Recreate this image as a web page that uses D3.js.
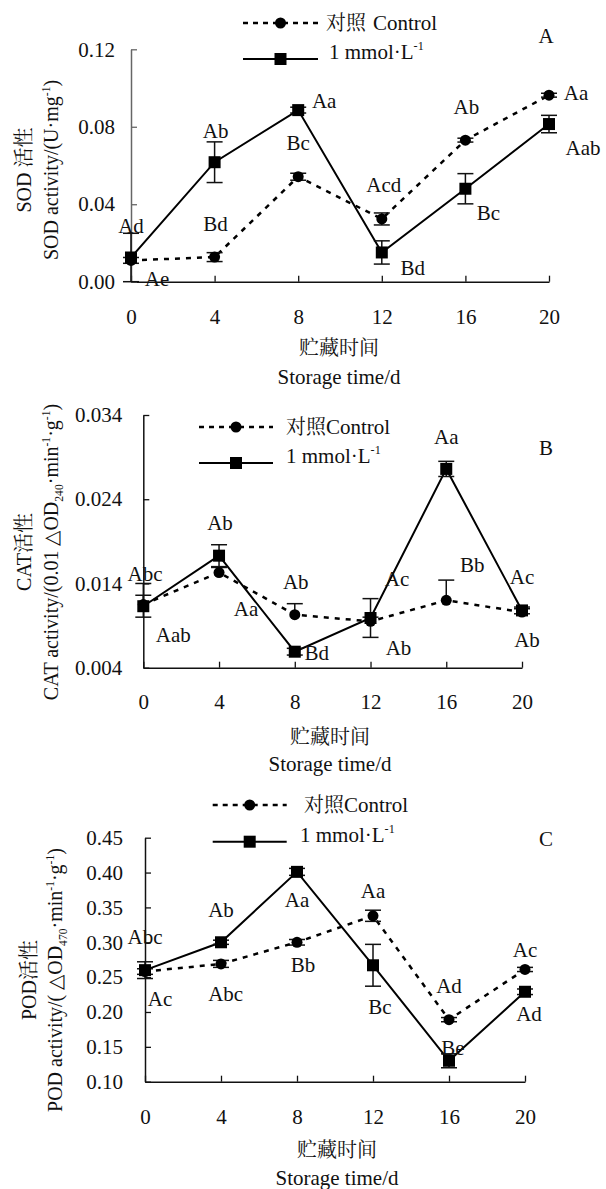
<!DOCTYPE html>
<html><head><meta charset="utf-8">
<script src="https://cdn.jsdelivr.net/npm/d3@7"></script>
<style>body{margin:0;background:#fff}svg{display:block}</style>
</head><body>
<svg id="chart" width="606" height="1189"></svg>
<script>
// ---------- DATA ----------
const days = [0, 4, 8, 12, 16, 20];

const sodCtrl    = [0.011, 0.0127, 0.0542, 0.0324, 0.0731, 0.0963];
const sodCtrlErr = [0.0015, 0.0023, 0.0018, 0.0031, 0.001, 0.001];
const sodTrt     = [0.0125, 0.0617, 0.0886, 0.0151, 0.048, 0.0814];
const sodTrtErr  = [0.0125, 0.0105, 0.0015, 0.006, 0.0078, 0.0045];
const sodCtrlSig = ["Ae", "Bd", "Bc", "Acd", "Ab", "Aa"];
const sodTrtSig  = ["Ad", "Ab", "Aa", "Bd", "Bc", "Aab"];
const sodTicks   = [0, 0.04, 0.08, 0.12];

const catCtrl    = [0.0115, 0.0153, 0.0103, 0.0095, 0.0120, 0.0106];
const catCtrlErr = [0.0025, 0.0006, 0.0013, 0.0005, 0.0024, 0.0004];
const catTrt     = [0.0113, 0.0173, 0.0059, 0.0099, 0.0276, 0.0108];
const catTrtErr  = [0.0013, 0.0013, 0.0004, 0.0023, 0.0009, 0.0004];
const catCtrlSig = ["Aab", "Aa", "Ab", "Ab", "Bb", "Ab"];
const catTrtSig  = ["Abc", "Ab", "Bd", "Ac", "Aa", "Ac"];
const catTicks   = [0.004, 0.014, 0.024, 0.034];

const podCtrl    = [0.258, 0.269, 0.300, 0.338, 0.189, 0.261];
const podCtrlErr = [0.004, 0.005, 0.004, 0.008, 0.003, 0.003];
const podTrt     = [0.260, 0.300, 0.401, 0.267, 0.130, 0.229];
const podTrtErr  = [0.012, 0.003, 0.005, 0.03, 0.01, 0.004];
const podCtrlSig = ["Ac", "Abc", "Bb", "Aa", "Ad", "Ac"];
const podTrtSig  = ["Abc", "Ab", "Aa", "Bc", "Be", "Ad"];
const podTicks   = [0.10, 0.15, 0.20, 0.25, 0.30, 0.35, 0.40, 0.45];

const legendCtrl = "对照";
const legendCtrlEn = "Control";
const xTitleZh = "贮藏时间";
const xTitleEn = "Storage time/d";

// ---------- LAYOUT ----------
const SERIF = "Liberation Serif";
const CJK = "Noto Serif CJK SC";
const FS = 21;
const svg = d3.select("#chart");

const panels = [
  {
    letter: "A", ctrl: sodCtrl, ctrlErr: sodCtrlErr, trt: sodTrt, trtErr: sodTrtErr,
    ctrlSig: sodCtrlSig, trtSig: sodTrtSig, ticks: sodTicks, fmt: ".2f",
    domain: [0, 0.12], left: 131, right: 549, top: 49.3, bottom: 281.7,
    yPad: 16, xLabY: 35, yAxisColor: "#666", ctrlUpOnly: false,
    ctrlOff: [[26, 18], [1, -33], [0, -34], [2, -34], [1, -33], [27, -3]],
    trtOff:  [[0, -32], [1, -32], [26, -9], [31, 15], [23, 24], [34, 24]],
    letterPos: [546, 36],
    legend: { x0: 243, x1: 318, y1: 23, y2: 59, t1: 326, t2: 329, space: true },
    zhTitle: [["SOD ", 0], ["活性", 2]], zhX: 31, enX: 58, titleY: 170,
    enTitle: [["SOD activity/(U·mg", 0], ["-1", -1], [")", 0]],
    xTitleX: 339, xTitleY1: 348, xTitleY2: 377
  },
  {
    letter: "B", ctrl: catCtrl, ctrlErr: catCtrlErr, trt: catTrt, trtErr: catTrtErr,
    ctrlSig: catCtrlSig, trtSig: catTrtSig, ticks: catTicks, fmt: ".3f",
    domain: [0.004, 0.034], left: 143.3, right: 522, top: 415, bottom: 667.7,
    yPad: 21, xLabY: 34, yAxisColor: "#111", ctrlUpOnly: true,
    ctrlOff: [[30, 30.5], [27, 36.5], [1, -33], [28, 26.6], [26, -36], [5, 28]],
    trtOff:  [[1.7, -33], [1, -33], [22, 1], [26.5, -39], [0, -32], [0, -34]],
    letterPos: [546, 448],
    legend: { x0: 199, x1: 273, y1: 427, y2: 463, t1: 286, t2: 286, space: false },
    zhTitle: [["CAT", 0], ["活性", 2]], zhX: 31, enX: 58, titleY: 552,
    enTitle: [["CAT activity/(0.01 △OD", 0], ["240", 1], ["·min", 0], ["-1", -1], ["·g", 0], ["-1", -1], [")", 0]],
    xTitleX: 330, xTitleY1: 737, xTitleY2: 764
  },
  {
    letter: "C", ctrl: podCtrl, ctrlErr: podCtrlErr, trt: podTrt, trtErr: podTrtErr,
    ctrlSig: podCtrlSig, trtSig: podTrtSig, ticks: podTicks, fmt: ".2f",
    domain: [0.10, 0.45], left: 145, right: 525, top: 837.7, bottom: 1081.7,
    yPad: 22, xLabY: 35, yAxisColor: "#111", ctrlUpOnly: false,
    ctrlOff: [[15, 27.5], [4.7, 29.4], [6, 22.7], [0, -25], [0, -33.6], [0, -20]],
    trtOff:  [[0, -33.4], [0, -33], [0, 27.4], [7, 41.4], [4, -13.5], [4, 22]],
    letterPos: [546, 839],
    legend: { x0: 212.7, x1: 286.7, y1: 805, y2: 841.7, t1: 304, t2: 300, space: false },
    zhTitle: [["POD", 0], ["活性", 2]], zhX: 36, enX: 62, titleY: 980,
    enTitle: [["POD activity/( △OD", 0], ["470", 1], ["·min", 0], ["-1", -1], ["·g", 0], ["-1", -1], [")", 0]],
    xTitleX: 337, xTitleY1: 1150, xTitleY2: 1178
  }
];

// kind: 0 normal, -1 superscript, 1 subscript, 2 CJK
function addRich(sel, parts, fs) {
  let shift = 0;
  parts.forEach(([t, kind]) => {
    const target = kind === -1 ? -0.42 * fs : kind === 1 ? 0.25 * fs : 0;
    const ts = sel.append("tspan").text(t).attr("dy", target - shift)
      .style("font-family", kind === 2 ? CJK : SERIF);
    if (kind === -1 || kind === 1) ts.attr("font-size", fs * 0.58);
    shift = target;
  });
}

function drawLegend(p) {
  const L = p.legend;
  const g = svg.append("g");
  g.append("line").attr("x1", L.x0).attr("x2", L.x1).attr("y1", L.y1).attr("y2", L.y1)
    .attr("stroke", "#000").attr("stroke-width", 2.5).attr("stroke-dasharray", "5,5");
  g.append("circle").attr("cx", (L.x0 + L.x1) / 2).attr("cy", L.y1).attr("r", 5.5).attr("fill", "#000");
  g.append("line").attr("x1", L.x0).attr("x2", L.x1).attr("y1", L.y2).attr("y2", L.y2)
    .attr("stroke", "#000").attr("stroke-width", 2);
  g.append("rect").attr("x", (L.x0 + L.x1) / 2 - 6).attr("y", L.y2 - 6).attr("width", 12).attr("height", 12).attr("fill", "#000");
  const t1 = g.append("text").attr("x", L.t1).attr("y", L.y1).attr("dy", "0.35em").attr("font-size", FS)
    .style("font-family", SERIF).attr("fill", "#111");
  t1.append("tspan").style("font-family", CJK).attr("font-size", 20).text(legendCtrl);
  t1.append("tspan").style("font-family", SERIF).attr("dx", L.space ? 7 : 0).text(legendCtrlEn);
  const t2 = g.append("text").attr("x", L.t2).attr("y", L.y2).attr("dy", "0.35em").attr("font-size", FS)
    .style("font-family", SERIF).attr("fill", "#111");
  addRich(t2, [["1 mmol·L", 0], ["-1", -1]], FS);
}

function drawPanel(p) {
  const x = d3.scaleLinear().domain([0, 20]).range([p.left, p.right]);
  const y = d3.scaleLinear().domain(p.domain).range([p.bottom, p.top]);

  const gx = svg.append("g").attr("transform", `translate(0,${p.bottom})`)
    .call(d3.axisBottom(x).tickValues(days).tickSize(-6).tickSizeOuter(0));
  gx.attr("font-family", null).attr("font-size", null);
  gx.select(".domain").attr("stroke", "#111").attr("stroke-width", 1.5);
  gx.selectAll(".tick line").attr("stroke", "#111").attr("stroke-width", 1.3);
  gx.selectAll("text").style("font-family", SERIF).attr("y", p.xLabY).attr("dy", "0.35em")
    .attr("font-size", FS).attr("fill", "#111");

  const gy = svg.append("g").attr("transform", `translate(${p.left},0)`)
    .call(d3.axisLeft(y).tickValues(p.ticks).tickFormat(d3.format(p.fmt)).tickSize(-6).tickSizeOuter(0).tickPadding(p.yPad));
  gy.attr("font-family", null).attr("font-size", null);
  gy.select(".domain").attr("stroke", p.yAxisColor).attr("stroke-width", 1.5);
  gy.selectAll(".tick line").attr("stroke", p.yAxisColor).attr("stroke-width", 1.3);
  gy.selectAll("text").style("font-family", SERIF).attr("font-size", FS).attr("fill", "#111");

  const ctrlData = days.map((d, i) => ({ d, v: p.ctrl[i], e: p.ctrlErr[i], s: p.ctrlSig[i], o: p.ctrlOff[i] }));
  const trtData = days.map((d, i) => ({ d, v: p.trt[i], e: p.trtErr[i], s: p.trtSig[i], o: p.trtOff[i] }));
  const line = d3.line().x(d => x(d.d)).y(d => y(d.v));

  svg.append("path").datum(ctrlData).attr("d", line).attr("fill", "none")
    .attr("stroke", "#000").attr("stroke-width", 2.5).attr("stroke-dasharray", "5,6");
  svg.append("path").datum(trtData).attr("d", line).attr("fill", "none")
    .attr("stroke", "#000").attr("stroke-width", 2);

  [[ctrlData, p.ctrlUpOnly], [trtData, false]].forEach(([data, upOnly]) => {
    const g = svg.append("g").attr("stroke", "#111").attr("stroke-width", 1.5);
    data.forEach(d => {
      const cx = x(d.d), y1 = y(d.v + d.e), y2 = upOnly ? y(d.v) : y(d.v - d.e);
      g.append("line").attr("x1", cx).attr("x2", cx).attr("y1", y1).attr("y2", y2);
      g.append("line").attr("x1", cx - 8).attr("x2", cx + 8).attr("y1", y1).attr("y2", y1);
      if (!upOnly) g.append("line").attr("x1", cx - 8).attr("x2", cx + 8).attr("y1", y2).attr("y2", y2);
    });
  });

  svg.append("g").selectAll("circle").data(ctrlData).join("circle")
    .attr("cx", d => x(d.d)).attr("cy", d => y(d.v)).attr("r", 5.5).attr("fill", "#000");
  svg.append("g").selectAll("rect").data(trtData).join("rect")
    .attr("x", d => x(d.d) - 6).attr("y", d => y(d.v) - 6).attr("width", 12).attr("height", 12).attr("fill", "#000");

  svg.append("g").selectAll("text").data(ctrlData.concat(trtData)).join("text")
    .style("font-family", SERIF)
    .attr("x", d => x(d.d) + d.o[0]).attr("y", d => y(d.v) + d.o[1]).attr("dy", "0.35em")
    .attr("text-anchor", "middle").attr("font-size", FS).attr("fill", "#111")
    .text(d => d.s);

  svg.append("text").style("font-family", SERIF).attr("x", p.letterPos[0]).attr("y", p.letterPos[1]).attr("dy", "0.35em")
    .attr("text-anchor", "middle").attr("font-size", FS).attr("fill", "#111").text(p.letter);

  // y titles
  const zh = svg.append("text").attr("transform", `translate(${p.zhX},${p.titleY}) rotate(-90)`)
    .attr("text-anchor", "middle").attr("dy", "0.35em").attr("font-size", 20).attr("fill", "#111")
    .style("font-family", SERIF);
  addRich(zh, p.zhTitle, 20);
  const en = svg.append("text").attr("transform", `translate(${p.enX},${p.titleY}) rotate(-90)`)
    .attr("text-anchor", "middle").attr("dy", "0.35em").attr("font-size", 20).attr("fill", "#111")
    .style("font-family", SERIF);
  addRich(en, p.enTitle, 20);

  // x titles
  svg.append("text").style("font-family", CJK).attr("x", p.xTitleX).attr("y", p.xTitleY1).attr("dy", "0.35em")
    .attr("text-anchor", "middle").attr("font-size", 20).attr("fill", "#111").text(xTitleZh);
  svg.append("text").style("font-family", SERIF).attr("x", p.xTitleX).attr("y", p.xTitleY2).attr("dy", "0.35em")
    .attr("text-anchor", "middle").attr("font-size", FS).attr("fill", "#111").text(xTitleEn);

  drawLegend(p);
}

panels.forEach(drawPanel);
</script>
</body></html>
